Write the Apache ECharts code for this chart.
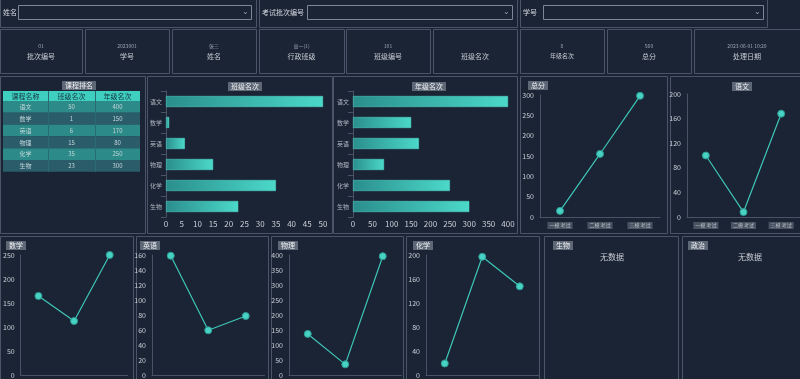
<!DOCTYPE html>
<html><head><meta charset="utf-8">
<script src="https://cdn.jsdelivr.net/npm/echarts@6/dist/echarts.min.js"></script>
<style>html,body{margin:0;padding:0;background:#1b2434;}#c{width:800px;height:379px;}</style>
</head><body><div id="c"></div><script>
// ---- data ----
const courses = ['语文','数学','英语','物理','化学','生物'];
const classRank = [50, 1, 6, 15, 35, 23];
const gradeRank = [400, 150, 170, 80, 250, 300];
const tableHeader = ['课程名称','班级名次','年级名次'];
const trendCats = ['一模 考试','二模 考试','三模 考试'];
const trendTop1 = [15, 155, 298];
const trendTop2 = [100, 8, 168];
const trendBot1 = [165, 113, 250];
const trendBot2 = [159, 60, 79];
const trendBot3 = [138, 37, 396];
const trendBot4 = [20, 197, 148];
const buttonLabels = ['批次编号','学号','姓名','行政班级','班级编号','班级名次','年级名次','总分','处理日期'];
const buttonValues = ['01','2023001','张三','高一(1)','101','','8','560','2023-06-01 10:20'];
const filterLabels = ['姓名','考试批次编号','学号'];
const chartTitles = ['总分','语文','数学','英语','物理','化学','生物','政治'];

// ---- style ----
const BORDER = '#4b5569', TXT = '#c9ced8', FONT = 'Noto Sans CJK SC';
const graphic = [];
function box(x, y, w, h, stroke) {
  graphic.push({type:'rect', silent:true, shape:{x:x+0.5, y:y+0.5, width:w, height:h},
    style:{fill:'none', stroke:stroke||BORDER, lineWidth:1}});
}
function txt(x, y, t, size, color, align, extra) {
  graphic.push(Object.assign({type:'text', silent:true, x:x, y:y,
    style:{text:t, fill:color||TXT, font:(size||9)+'px "'+FONT+'"', align:align||'left', verticalAlign:'middle'}}, extra||{}));
}
// filter row
const filt = [[0,-3,256,30,18,251],[259,-3,258,30,307,512],[520,-3,247,30,543,763]];
filt.forEach((f,i)=>{
  box(f[0],f[1],f[2],f[3]);
  txt(f[0]+3,12,filterLabels[i],7,'#d6dae2');
  box(f[4],5,f[5]-f[4],14,'#7d8597');
  txt(f[5]-6,11,'⌄',8,'#9aa2b2','center');
});
// button row
const btnX = [0,85,172,259,346,433,520,607,694];
const btnW = [82,84,84,85,84,84,84,84,110];
btnX.forEach((x,i)=>{
  box(x,29,btnW[i],44);
  const cx = x + Math.min(btnW[i],106)/2;
  if (buttonValues[i]) txt(cx,46,buttonValues[i],5,'#9ea6b6','center');
  txt(cx,56,buttonLabels[i], i===6?6:7, '#c6cbd4','center');
});
// panels
[[0,76,145,157],[147,76,185,157],[333,76,184,157],[520,76,147,157],[670,76,140,157],
 [0,236,133,150],[136,236,132,150],[271,236,132,150],[406,236,133,150],[544,236,134,150],[682,236,130,150]]
 .forEach(p=>box(p[0],p[1],p[2],p[3]));
// table
const colX = [3,48,95,140];
const rowH = 11.8, tTop = 101;
graphic.push({type:'rect',silent:true,shape:{x:3,y:91,width:137,height:10},style:{fill:'#3fcfc0'}});
tableHeader.forEach((h,j)=>txt((colX[j]+colX[j+1])/2,96,h,7,'#16333d','center'));
courses.forEach((c,i)=>{
  const y = tTop + i*rowH;
  graphic.push({type:'rect',silent:true,shape:{x:3,y:y,width:137,height:rowH},style:{fill: i%2===0?'#2c8a88':'#2a5c69'}});
  const vals = [c, String(classRank[i]), String(gradeRank[i])];
  vals.forEach((v,j)=>txt((colX[j]+colX[j+1])/2,y+rowH/2,v,6,'#c2d6da','center'));
});
[48,95].forEach(x=>graphic.push({type:'line',silent:true,shape:{x1:x+0.5,y1:91,x2:x+0.5,y2:tTop+6*rowH},style:{stroke:'#2a6b72',lineWidth:1}}));
txt(612,257,'无数据',8,'#c8ccd4','center');
txt(750,257,'无数据',8,'#c8ccd4','center');

// ---- charts ----
const grids=[], xAxes=[], yAxes=[], series=[], titles=[];
const axLine = {show:true, lineStyle:{color:'#4a5366'}};
const lab = {color:TXT, fontSize:8, fontFamily:FONT};
function title(left, top, text) {
  titles.push({text:text, left:left, top:top, padding:[1,3],
    backgroundColor:'rgba(150,158,172,0.55)',
    textStyle:{color:'#eef0f4', fontSize:7, fontWeight:'normal', fontFamily:FONT}});
}
function barChart(g, values, max, interval) {
  const i = grids.length;
  grids.push(g);
  xAxes.push({type:'value', gridIndex:i, min:0, max:max, interval:interval,
    axisLine:{show:false}, splitLine:{show:false}, axisTick:{show:false}, axisLabel:Object.assign({}, lab, {margin:3})});
  yAxes.push({type:'category', gridIndex:i, data:courses, inverse:true,
    axisLine:axLine, axisTick:{show:true, lineStyle:{color:'#4a5366'}},
    axisLabel:Object.assign({}, lab, {fontSize:6, color:'#aeb4c0', margin:4})});
  series.push({type:'bar', xAxisIndex:i, yAxisIndex:i, data:values, barWidth:11,
    itemStyle:{color:new echarts.graphic.LinearGradient(0,0,1,0,[{offset:0,color:'#2a8e8c'},{offset:1,color:'#4bd9c9'}]),
      borderColor:'#56ddd0', borderWidth:0.5}});
}
function lineChart(g, values, max, interval, showX) {
  const i = grids.length;
  grids.push(g);
  xAxes.push({type:'category', gridIndex:i, data:trendCats, boundaryGap:true,
    axisLine:axLine, axisTick:{show:false},
    axisLabel:Object.assign({}, lab, {fontSize:5, color:'#b8bec9', show:showX, margin:5, interval:0,
      backgroundColor:'rgba(120,128,142,0.5)', padding:[1,2]})});
  yAxes.push({type:'value', gridIndex:i, min:0, max:max, interval:interval,
    axisLine:axLine, axisTick:{show:false}, splitLine:{show:false}, axisLabel:Object.assign({}, lab, {fontSize:7, margin:6})});
  series.push({type:'line', xAxisIndex:i, yAxisIndex:i, data:values, symbol:'circle', symbolSize:7,
    lineStyle:{color:'#3ec6b8', width:1.2},
    itemStyle:{color:'#48d2c3', borderColor:'#2d9c94', borderWidth:1}});
}
barChart({left:166, top:91, width:157, height:126}, classRank, 50, 5);
barChart({left:353, top:91, width:155, height:126}, gradeRank, 400, 50);
lineChart({left:540, top:95, width:120, height:122}, trendTop1, 300, 50, true);
lineChart({left:687, top:94, width:124.5, height:123}, trendTop2, 200, 40, true);
lineChart({left:15, top:255, width:112.5, height:122}, trendBot1, 250, 50, false);
lineChart({left:152, top:255, width:112.5, height:122}, trendBot2, 160, 20, false);
lineChart({left:289, top:255, width:112.5, height:122}, trendBot3, 400, 50, false);
lineChart({left:426, top:255, width:112.5, height:122}, trendBot4, 200, 40, false);

title(62, 81, '课程排名');
title(228, 82, '班级名次');
title(412, 82, '年级名次');
title(528, 81, chartTitles[0]);
title(732, 82, chartTitles[1]);
title(6, 241, chartTitles[2]);
title(140, 241, chartTitles[3]);
title(278, 241, chartTitles[4]);
title(413, 241, chartTitles[5]);
title(553, 241, chartTitles[6]);
title(688, 241, chartTitles[7]);

const chart = echarts.init(document.getElementById('c'));
chart.setOption({
  backgroundColor:'#1b2434', animation:false,
  title:titles, grid:grids, xAxis:xAxes, yAxis:yAxes, series:series, graphic:graphic
});
</script></body></html>
